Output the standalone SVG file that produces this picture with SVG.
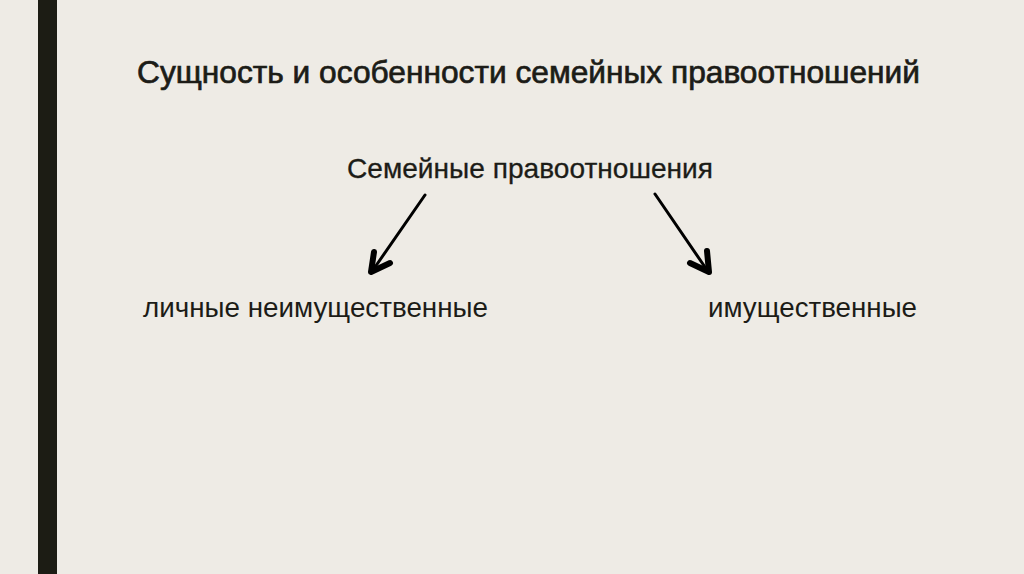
<svg xmlns="http://www.w3.org/2000/svg" width="1024" height="574" viewBox="0 0 1024 574">
<style>
text{font-family:"Liberation Sans",Arial,sans-serif;fill:#1c1c17}
.h{stroke:#1c1c17;stroke-width:0.7}
.s{stroke:#1c1c17;stroke-width:0.3}
.ln{stroke:#000;stroke-width:3;fill:none;stroke-linecap:round}
.hd{stroke:#000;stroke-width:6;fill:none;stroke-linecap:round;stroke-linejoin:round}
</style>
<rect width="1024" height="574" fill="#eeebe5"/>
<rect x="38" y="0" width="19" height="574" fill="#1c1c14"/>
<g id="title"><text class="h" x="137" y="83" font-size="32" textLength="783" lengthAdjust="spacingAndGlyphs">Сущность и особенности семейных правоотношений</text></g>
<g id="root"><text class="s" x="347" y="178" font-size="28" textLength="366" lengthAdjust="spacingAndGlyphs">Семейные правоотношения</text></g>
<g id="personal"><text x="143" y="317" font-size="27" textLength="345" lengthAdjust="spacingAndGlyphs">личные неимущественные</text></g>
<g id="property"><text x="708" y="317" font-size="27" textLength="209" lengthAdjust="spacingAndGlyphs">имущественные</text></g>
<g id="connectors">
<line class="ln" x1="425" y1="195" x2="373" y2="270"/>
<path class="hd" d="M374 252 L371 272 L390 263"/>
<line class="ln" x1="655" y1="194" x2="707" y2="270"/>
<path class="hd" d="M707 251 L709 272 L690 263"/>
</g>
</svg>
